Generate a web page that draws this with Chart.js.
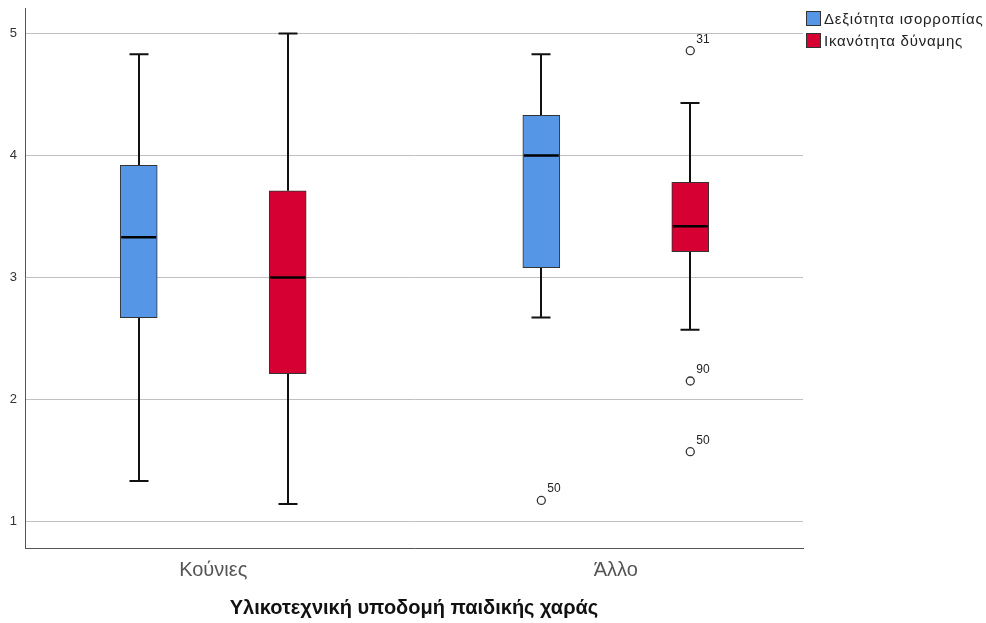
<!DOCTYPE html>
<html>
<head>
<meta charset="utf-8">
<script src="https://cdn.jsdelivr.net/npm/chart.js@4"></script>
<style>
  body { margin: 0; background: #fff; }
  #wrap { position: relative; width: 986px; height: 623px; }
  #legend { position: absolute; left: 806px; top: 7px; font: 15px "Liberation Sans", Arial, sans-serif; letter-spacing: 0.8px; color: #222; }
  .item { display: flex; align-items: center; height: 22px; white-space: nowrap; }
  .box { width: 15px; height: 15px; box-sizing: border-box; border: 1px solid #333; margin-right: 3px; }
</style>
</head>
<body>
<div id="wrap">
  <canvas id="chart" width="986" height="623"></canvas>
  <div id="legend"></div>
</div>
<script>
// categories and series
const categories = ['Κούνιες', 'Άλλο'];
const seriesNames = ['Δεξιότητα ισορροπίας', 'Ικανότητα δύναμης'];
const xTitle = 'Υλικοτεχνική υποδομή παιδικής χαράς';
const yTicks = [1, 2, 3, 4, 5];

// Δεξιότητα ισορροπίας (blue)
const balanceMin = [1.33, 2.67];
const balanceQ1 = [2.67, 3.08];
const balanceMedian = [3.33, 4.00];
const balanceQ3 = [3.92, 4.33];
const balanceMax = [4.83, 4.83];
const balanceOutlierCat = [1];
const balanceOutlierValues = [1.17];
const balanceOutlierIds = ['50'];

// Ικανότητα δύναμης (red)
const strengthMin = [1.14, 2.57];
const strengthQ1 = [2.21, 3.21];
const strengthMedian = [3.00, 3.42];
const strengthQ3 = [3.71, 3.78];
const strengthMax = [5.00, 4.43];
const strengthOutlierCat = [1, 1, 1];
const strengthOutlierValues = [4.86, 2.15, 1.57];
const strengthOutlierIds = ['31', '90', '50'];

const colors = ['#5596e6', '#d60032'];
const groupOffset = 0.185; // box shift from the category centre, in x units
const boxWidth = 37;
const capHalf = 9.5;
const font = '"Liberation Sans", Arial, sans-serif';

const series = [
  { min: balanceMin, q1: balanceQ1, med: balanceMedian, q3: balanceQ3, max: balanceMax,
    oCat: balanceOutlierCat, oVal: balanceOutlierValues, oId: balanceOutlierIds, shift: -groupOffset },
  { min: strengthMin, q1: strengthQ1, med: strengthMedian, q3: strengthQ3, max: strengthMax,
    oCat: strengthOutlierCat, oVal: strengthOutlierValues, oId: strengthOutlierIds, shift: groupOffset }
];

const boxDatasets = series.map((s, k) => ({
  type: 'bar',
  label: seriesNames[k],
  data: categories.map((c, i) => ({ x: i + s.shift, y: [s.q1[i], s.q3[i]] })),
  backgroundColor: colors[k],
  borderColor: '#333',
  borderWidth: 1,
  borderSkipped: false,
  barThickness: boxWidth,
  grouped: false,
  order: 2
}));

const outlierDatasets = series.map((s, k) => ({
  type: 'scatter',
  label: seriesNames[k] + ' outliers',
  data: s.oCat.map((c, j) => ({ x: c + s.shift, y: s.oVal[j] })),
  pointRadius: 4,
  pointBackgroundColor: '#fff',
  pointBorderColor: '#333',
  pointBorderWidth: 1.3,
  showLine: false,
  order: 1
}));

// whiskers, caps, medians and outlier ids, placed with the chart's scales
const boxParts = {
  id: 'boxParts',
  beforeDatasetsDraw(chart) {
    const ctx = chart.ctx, x = chart.scales.x, y = chart.scales.y;
    ctx.save();
    ctx.strokeStyle = '#111';
    ctx.lineWidth = 2;
    series.forEach(s => {
      categories.forEach((c, i) => {
        const px = Math.round(x.getPixelForValue(i + s.shift));
        const pairs = [[s.q3[i], s.max[i]], [s.q1[i], s.min[i]]];
        pairs.forEach(p => {
          const a = y.getPixelForValue(p[0]), b = y.getPixelForValue(p[1]);
          ctx.beginPath();
          ctx.moveTo(px, a); ctx.lineTo(px, b);
          ctx.moveTo(px - capHalf, b); ctx.lineTo(px + capHalf, b);
          ctx.stroke();
        });
      });
    });
    ctx.restore();
  },
  afterDatasetsDraw(chart) {
    const ctx = chart.ctx, x = chart.scales.x, y = chart.scales.y;
    ctx.save();
    ctx.strokeStyle = '#000';
    ctx.lineWidth = 2.5;
    series.forEach(s => {
      categories.forEach((c, i) => {
        const px = x.getPixelForValue(i + s.shift);
        const py = y.getPixelForValue(s.med[i]);
        ctx.beginPath();
        ctx.moveTo(px - boxWidth / 2 + 1, py); ctx.lineTo(px + boxWidth / 2 - 1, py);
        ctx.stroke();
      });
      ctx.fillStyle = '#222';
      ctx.font = '12px ' + font;
      ctx.textBaseline = 'alphabetic';
      s.oCat.forEach((c, j) => {
        const px = x.getPixelForValue(c + s.shift);
        const py = y.getPixelForValue(s.oVal[j]);
        ctx.fillText(s.oId[j], px + 6, py - 8);
      });
    });
    ctx.restore();
  }
};

const chart = new Chart(document.getElementById('chart'), {
  type: 'bar',
  data: { datasets: boxDatasets.concat(outlierDatasets) },
  options: {
    responsive: false,
    animation: false,
    devicePixelRatio: 1,
    layout: { padding: { top: 8, right: 183, left: 0, bottom: 0 } },
    plugins: { legend: { display: false }, tooltip: { enabled: false } },
    scales: {
      x: {
        type: 'linear',
        offset: false,
        min: -0.4675,
        max: 1.465,
        afterBuildTicks: s => { s.ticks = categories.map((c, i) => ({ value: i })); },
        afterFit: s => { s.height = 75; s.paddingLeft = 0; s.paddingRight = 0; },
        grid: { display: false, drawTicks: false, offset: false },
        border: { display: true, color: '#555', width: 1 },
        ticks: {
          padding: 10,
          color: '#555',
          font: { family: font, size: 20 },
          maxRotation: 0,
          callback: v => categories[v]
        },
        title: {
          display: true,
          text: xTitle,
          color: '#111',
          font: { family: font, size: 20, weight: 'bold' },
          padding: { top: 0, bottom: 3 }
        }
      },
      y: {
        min: 0.78,
        max: 5.21,
        afterBuildTicks: s => { s.ticks = yTicks.map(v => ({ value: v })); },
        afterFit: s => { s.width = 25; s.paddingTop = 0; s.paddingBottom = 0; },
        grid: { color: '#c0c0c0', lineWidth: 1, drawTicks: false },
        border: { display: true, color: '#555', width: 1 },
        ticks: { padding: 8, color: '#333', font: { family: font, size: 13 } }
      }
    }
  },
  plugins: [boxParts]
});

// legend from the box datasets
const legend = document.getElementById('legend');
boxDatasets.forEach(d => {
  const item = document.createElement('div');
  item.className = 'item';
  const box = document.createElement('span');
  box.className = 'box';
  box.style.background = d.backgroundColor;
  item.appendChild(box);
  item.appendChild(document.createTextNode(d.label));
  legend.appendChild(item);
});
</script>
</body>
</html>
